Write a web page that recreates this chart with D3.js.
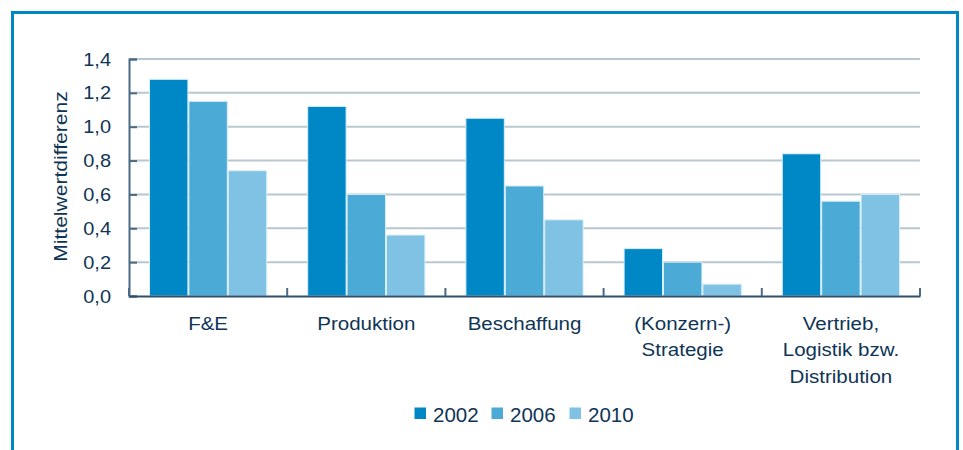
<!DOCTYPE html>
<html><head><meta charset="utf-8">
<script src="https://cdn.jsdelivr.net/npm/d3@7"></script>
<style>body{margin:0;background:#fff}svg{display:block}</style>
</head><body>
<svg id="c" width="963" height="450"></svg>
<script>
const categories = [["F&E"],["Produktion"],["Beschaffung"],["(Konzern-)","Strategie"],["Vertrieb,","Logistik bzw.","Distribution"]];
const seriesNames = ["2002","2006","2010"];
const v2002 = [1.28,1.12,1.05,0.28,0.84];
const v2006 = [1.15,0.60,0.65,0.20,0.56];
const v2010 = [0.74,0.36,0.45,0.07,0.60];
const yTicks = [0,0.2,0.4,0.6,0.8,1.0,1.2,1.4];
const colors = ["#0087c6","#4baad6","#80c2e3"];
const series = [v2002,v2006,v2010];
const textColor = "#0f3556";

(function(){
const FONT = "Liberation Sans, Arial, sans-serif";
const SX = 1.11;
const svg = d3.select("#c");
// frame
svg.append("path").attr("d","M12.5,460 V12.5 H957.5 V460").attr("fill","none").attr("stroke","#0087c6").attr("stroke-width",3);

const pLeft=129, pRight=920, pTop=59, pBottom=296;
const x = d3.scaleBand().domain(d3.range(categories.length)).range([pLeft,pRight]).paddingInner(0).paddingOuter(0);
const x1 = d3.scaleBand().domain(d3.range(3)).range([20, x.bandwidth()-20]).padding(0);
const y = d3.scaleLinear().domain([0,1.4]).range([pBottom,pTop]);

// grid
svg.append("g").selectAll("line").data(yTicks.slice(1)).join("line")
  .attr("x1",pLeft).attr("x2",pRight).attr("y1",d=>y(d)).attr("y2",d=>y(d))
  .attr("stroke","#b9c7d1").attr("stroke-width",2);

// bars
const g = svg.append("g");
categories.forEach((c,i)=>{
  series.forEach((s,j)=>{
    g.append("rect").attr("x",x(i)+x1(j)+0.5).attr("width",x1.bandwidth()-1)
      .attr("y",y(s[i])).attr("height",y(0)-y(s[i]))
      .attr("fill",colors[j]).attr("stroke","#d8eef9").attr("stroke-width",1);
  });
});

// y axis
const ya = svg.append("g").attr("transform",`translate(${pLeft},0)`)
  .call(d3.axisLeft(y).tickValues(yTicks).tickSize(-8).tickFormat(()=>""));
ya.select(".domain").attr("stroke","#4a6a85").attr("stroke-width",2);
ya.selectAll(".tick line").attr("stroke","#4a6a85").attr("stroke-width",2);
ya.selectAll(".tick text").remove();
// tick labels (slightly widened glyphs)
svg.append("g").selectAll("text").data(yTicks).join("text")
  .attr("transform",d=>`translate(111,${y(d)+6.5}) scale(${SX},1)`)
  .attr("text-anchor","end").attr("fill",textColor).attr("font-family",FONT).attr("font-size",18)
  .text(d=>d3.format(".1f")(d).replace(".",","));

// x axis
const xa = svg.append("g").attr("transform",`translate(0,${pBottom})`)
  .call(d3.axisBottom(x).tickValues([]).tickSize(0));
xa.select(".domain").attr("stroke","#2f4f6b").attr("stroke-width",2);
svg.append("g").selectAll("line").data(d3.range(categories.length+1)).join("line")
  .attr("x1",i=>pLeft+i*x.bandwidth()).attr("x2",i=>pLeft+i*x.bandwidth())
  .attr("y1",pBottom-8).attr("y2",pBottom).attr("stroke","#4a6a85").attr("stroke-width",2);

// category labels
categories.forEach((c,i)=>{
  const cx = x(i)+x.bandwidth()/2;
  const t = svg.append("text").attr("transform",`translate(${cx},329.5) scale(${SX},1)`)
    .attr("text-anchor","middle").attr("fill",textColor)
    .attr("font-family",FONT).attr("font-size",18.5);
  c.forEach((line,k)=>t.append("tspan").attr("x",0).attr("dy",k?27:0).text(line));
});

// y title
svg.append("text").attr("transform",`translate(66.5,176.5) rotate(-90) scale(${SX},1)`).attr("text-anchor","middle")
  .attr("fill",textColor).attr("font-family",FONT).attr("font-size",19)
  .text("Mittelwertdifferenz");

// legend
const legX=[414.5,491.5,569.5];
seriesNames.forEach((n,j)=>{
  svg.append("rect").attr("x",legX[j]).attr("y",407.5).attr("width",11.5).attr("height",11.5).attr("fill",colors[j]);
  svg.append("text").attr("x",legX[j]+18.5).attr("y",421.5).attr("fill",textColor)
    .attr("font-family",FONT).attr("font-size",20.5).text(n);
});
})();
</script>
</body></html>
